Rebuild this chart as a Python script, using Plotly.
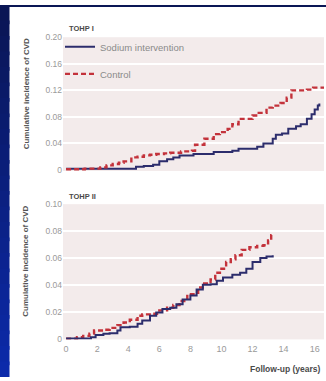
import plotly.graph_objects as go

# ---- data: cumulative incidence of CVD (step curves) ----
tohp1_sodium_t = [0, 4.5, 5.0, 5.6, 6.0, 6.5, 6.9, 7.3, 8.2, 9.5, 10.7, 11.1, 12.3, 12.7,
                  13.3, 13.5, 13.9, 14.3, 14.8, 15.1, 15.5, 15.8, 16.0, 16.2, 16.3]
tohp1_sodium_v = [0.002, 0.005, 0.006, 0.008, 0.013, 0.016, 0.019, 0.022, 0.024, 0.027, 0.029,
                  0.032, 0.035, 0.040, 0.047, 0.053, 0.055, 0.062, 0.066, 0.069, 0.077, 0.084,
                  0.091, 0.097, 0.100]

tohp1_control_t = [0, 1.2, 2.2, 2.6, 3.0, 3.4, 3.7, 4.2, 4.6, 5.0, 5.4, 5.8, 6.3, 6.7, 7.4,
                   8.1, 8.3, 8.9, 9.5, 9.9, 10.4, 10.7, 11.1, 12.0, 12.4, 12.9, 13.3, 13.8,
                   14.2, 14.5, 15.5, 15.9, 16.6]
tohp1_control_v = [0.001, 0.002, 0.004, 0.007, 0.009, 0.011, 0.013, 0.019, 0.020, 0.022, 0.023,
                   0.024, 0.025, 0.026, 0.028, 0.029, 0.038, 0.047, 0.054, 0.057, 0.062, 0.069,
                   0.077, 0.082, 0.086, 0.094, 0.097, 0.101, 0.109, 0.120, 0.121, 0.124, 0.124]

tohp2_sodium_t = [0, 1.6, 1.9, 2.4, 2.8, 3.3, 3.5, 4.1, 4.6, 4.9, 5.4, 5.8, 6.2, 6.7, 7.1,
                  7.5, 8.0, 8.4, 8.8, 9.3, 9.7, 10.1, 10.7, 11.2, 11.6, 12.0, 12.5, 12.9, 13.3]
tohp2_sodium_v = [0.000, 0.001, 0.0027, 0.0037, 0.004, 0.006, 0.0085, 0.0088, 0.011, 0.0135,
                  0.017, 0.0195, 0.022, 0.023, 0.0256, 0.029, 0.032, 0.0366, 0.040, 0.0405,
                  0.043, 0.0455, 0.0475, 0.049, 0.052, 0.057, 0.060, 0.061, 0.062]

tohp2_control_t = [0, 0.7, 1.1, 1.5, 1.8, 2.4, 2.8, 3.3, 3.7, 4.1, 4.6, 4.9, 5.6, 6.0, 6.5,
                   6.9, 7.3, 7.8, 8.2, 8.5, 8.8, 9.3, 9.6, 9.9, 10.3, 10.6, 10.9, 11.3, 11.8,
                   12.3, 12.7, 13.0, 13.2, 13.3]
tohp2_control_v = [0.000, 0.001, 0.002, 0.0037, 0.006, 0.0066, 0.008, 0.010, 0.012, 0.014,
                   0.017, 0.018, 0.0185, 0.021, 0.023, 0.025, 0.028, 0.033, 0.034, 0.038, 0.041,
                   0.044, 0.049, 0.052, 0.057, 0.059, 0.062, 0.066, 0.068, 0.069, 0.0695, 0.073,
                   0.077, 0.078]

series_names = ["Sodium intervention", "Control"]
panel_titles = ["TOHP I", "TOHP II"]

top_yticks = [0, 0.04, 0.08, 0.12, 0.16, 0.20]
top_ytext = ["0", "0.04", "0.08", "0.12", "0.16", "0.20"]
bot_yticks = [0, 0.02, 0.04, 0.06, 0.08, 0.10]
bot_ytext = ["0", "0.02", "0.04", "0.06", "0.08", "0.10"]
xticks = [0, 2, 4, 6, 8, 10, 12, 14, 16]

y_title = "Cumulative incidence of CVD"
x_title = "Follow-up (years)"

# ---- page geometry (pixels) ----
W, H = 326, 381


def fx(px):
    return px / W


def fy(py):
    return 1 - py / H


NAVY = "#2c2d6c"
RED = "#c3323b"
PANEL_BG = "#f3ebeb"
TICK_GRAY = "#9a9a9a"
TITLE_GRAY = "#4a4a4a"
FONT = "Liberation Sans"

fig = go.Figure()

line_blue = dict(color=NAVY, width=2, shape="hv")
line_red = dict(color=RED, width=2.4, dash="5px,3px", shape="hv")

fig.add_trace(go.Scatter(x=tohp1_sodium_t, y=tohp1_sodium_v, mode="lines", line=line_blue,
                         name=series_names[0], legendgroup="a", xaxis="x", yaxis="y"))
fig.add_trace(go.Scatter(x=tohp1_control_t, y=tohp1_control_v, mode="lines", line=line_red,
                         name=series_names[1], legendgroup="b", xaxis="x", yaxis="y"))
fig.add_trace(go.Scatter(x=tohp2_control_t, y=tohp2_control_v, mode="lines", line=line_red,
                         name=series_names[1], showlegend=False, xaxis="x2", yaxis="y2"))
fig.add_trace(go.Scatter(x=tohp2_sodium_t, y=tohp2_sodium_v, mode="lines", line=line_blue,
                         name=series_names[0], showlegend=False, xaxis="x2", yaxis="y2"))

yaxis_common = dict(
    showgrid=True, gridcolor="white", gridwidth=1.5, zeroline=False, showline=False,
    ticks="", tickfont=dict(family=FONT, size=8.5, color=TICK_GRAY), fixedrange=True,
)
xaxis_common = dict(
    range=[-0.2, 16.6], showgrid=False, zeroline=False, showline=False, ticks="",
    tickvals=xticks, tickfont=dict(family=FONT, size=9, color=TICK_GRAY), fixedrange=True,
    ticklabelstandoff=3,
)

# left blue backdrop strip with a vertical gradient (overlapping slices, no seams)
shapes = []
n = 24
top_c = (10, 22, 85)
bot_c = (12, 42, 170)
for i in range(n):
    f = i / (n - 1)
    c = tuple(int(top_c[k] + (bot_c[k] - top_c[k]) * f) for k in range(3))
    shapes.append(dict(type="rect", xref="paper", yref="paper", x0=0, x1=fx(9.5),
                       y0=max(0, 1 - (i + 1) / n - 0.01), y1=1 - i / n,
                       fillcolor="rgb(%d,%d,%d)" % c, line=dict(width=0), layer="below"))
shapes.append(dict(type="rect", xref="paper", yref="paper", x0=0, x1=1, y0=fy(2), y1=1,
                   fillcolor="rgb(10,22,85)", line=dict(width=0), layer="below"))

annotations = [
    dict(text="<b>%s</b>" % panel_titles[0], x=fx(67), y=fy(24), xref="paper", yref="paper",
         xanchor="left", yanchor="middle", showarrow=False,
         font=dict(family=FONT, size=7.5, color=TITLE_GRAY)),
    dict(text="<b>%s</b>" % panel_titles[1], x=fx(67), y=fy(196), xref="paper", yref="paper",
         xanchor="left", yanchor="middle", showarrow=False,
         font=dict(family=FONT, size=7.5, color=TITLE_GRAY)),
    dict(text="<b>%s</b>" % y_title, x=fx(26), y=fy(91.5), xref="paper", yref="paper",
         textangle=-90, xanchor="center", yanchor="middle", showarrow=False,
         font=dict(family=FONT, size=8, color="#555555")),
    dict(text="<b>%s</b>" % y_title, x=fx(26), y=fy(263), xref="paper", yref="paper",
         textangle=-90, xanchor="center", yanchor="middle", showarrow=False,
         font=dict(family=FONT, size=8, color="#555555")),
    dict(text="<b>%s</b>" % x_title, x=fx(248), y=fy(373), xref="paper", yref="paper",
         xanchor="left", yanchor="middle", showarrow=False,
         font=dict(family=FONT, size=8.5, color=TITLE_GRAY)),
]

fig.update_layout(
    width=W, height=H,
    margin=dict(l=0, r=0, t=0, b=0),
    paper_bgcolor="white",
    plot_bgcolor=PANEL_BG,
    showlegend=True,
    legend=dict(x=fx(60), y=fy(28), xanchor="left", yanchor="top",
                bgcolor="rgba(0,0,0,0)", borderwidth=0, traceorder="grouped",
                tracegroupgap=8, itemwidth=30,
                font=dict(family=FONT, size=9.5, color="#8a8a8a")),
    xaxis=dict(xaxis_common, domain=[fx(63), fx(324)], anchor="y", showticklabels=False),
    yaxis=dict(yaxis_common, domain=[fy(170), fy(33)], anchor="x", range=[-0.0015, 0.2],
               tickvals=top_yticks, ticktext=top_ytext),
    xaxis2=dict(xaxis_common, domain=[fx(63), fx(324)], anchor="y2"),
    yaxis2=dict(yaxis_common, domain=[fy(342.5), fy(204)], anchor="x2", range=[-0.0006, 0.1],
                tickvals=bot_yticks, ticktext=bot_ytext),
    shapes=shapes,
    annotations=annotations,
)

fig.write_html("out.html")
